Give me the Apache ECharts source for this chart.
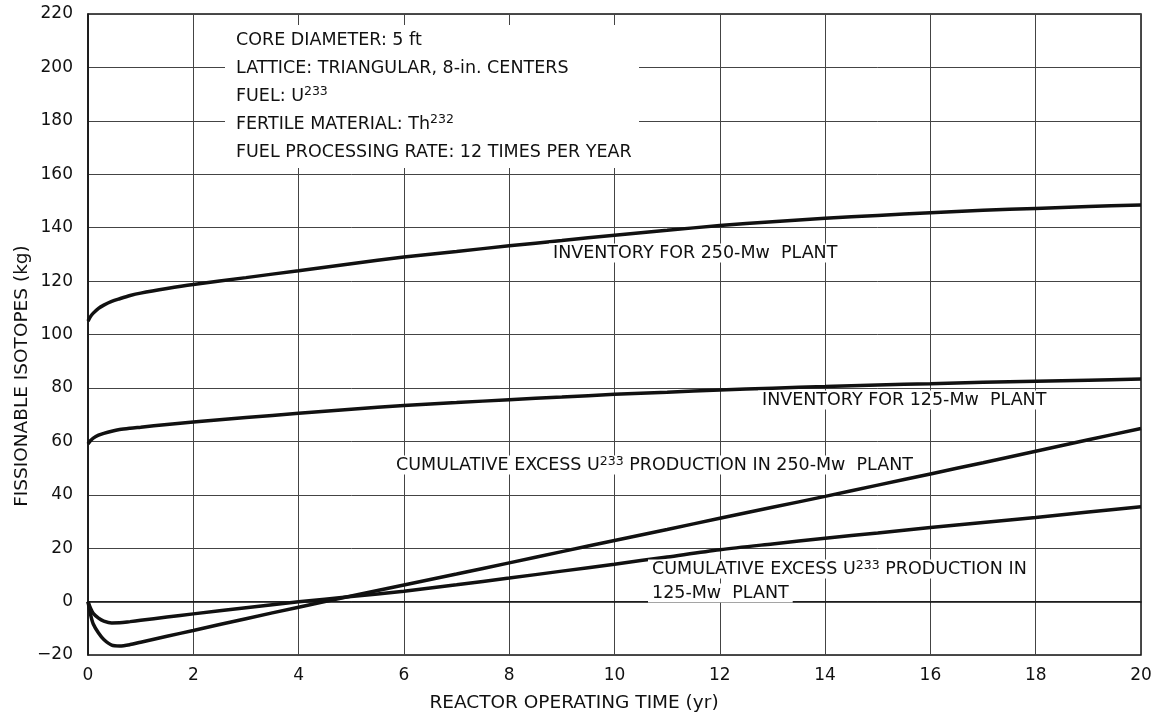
<!DOCTYPE html>
<html>
<head>
<meta charset="utf-8">
<script src="https://cdn.jsdelivr.net/npm/echarts@6/dist/echarts.min.js"></script>
<style>
  html, body { margin: 0; padding: 0; background: #fff; }
  #chart { width: 1164px; height: 716px; }
</style>
</head>
<body>
<div id="chart"></div>
<script>
// reactor operating time (yr), shared by all four curves
const years = [0, 0.05, 0.1, 0.2, 0.3, 0.45, 0.6, 0.8, 1, 1.5, 2, 3, 4, 5, 6, 7, 8, 9, 10, 11, 12, 13, 14, 15, 16, 17, 18, 19, 20];

// fissionable isotopes (kg)
const inventory250 = [105, 106.8, 108, 109.8, 111, 112.4, 113.4, 114.6, 115.5, 117.2, 118.7, 121.3, 123.9, 126.5, 129, 131.1, 133.2, 135.2, 137.2, 139, 140.8, 142.2, 143.5, 144.6, 145.6, 146.5, 147.2, 147.9, 148.5];
const inventory125 = [59, 60.3, 61.2, 62.3, 63, 63.8, 64.4, 64.9, 65.3, 66.3, 67.2, 68.9, 70.5, 72, 73.4, 74.5, 75.6, 76.6, 77.6, 78.4, 79.2, 79.9, 80.5, 81.1, 81.6, 82.1, 82.5, 82.9, 83.3];
const excess250 = [0, -5, -8.4, -11.8, -14.2, -16.3, -16.6, -16.1, -15.2, -13.0, -10.8, -6.4, -2.1, 2.1, 6.2, 10.3, 14.5, 18.7, 22.9, 27, 31.2, 35.3, 39.4, 43.6, 47.8, 52, 56.3, 60.6, 64.8];
const excess125 = [0, -2.6, -4.4, -6.2, -7.3, -8, -7.95, -7.5, -7.0, -5.8, -4.6, -2.3, -0.1, 1.9, 3.9, 6.3, 8.8, 11.4, 14, 16.7, 19.4, 21.6, 23.7, 25.7, 27.7, 29.6, 31.5, 33.5, 35.5];

const notes = [
    "CORE DIAMETER: 5 ft",
    "LATTICE: TRIANGULAR, 8-in. CENTERS",
    "FUEL: U{sup|233}",
    "FERTILE MATERIAL: Th{sup|232}",
    "FUEL PROCESSING RATE: 12 TIMES PER YEAR"
];

const FONT = "DejaVu Sans";
const INK = "#111";
const TEXT = "17.5px " + FONT;

const chart = echarts.init(document.getElementById("chart"));

function curve(name, values) {
    return {
        name: name,
        type: "line",
        smooth: 0.3,
        symbol: "none",
        lineStyle: { color: INK, width: 3.5 },
        data: years.map((x, i) => [x, values[i]])
    };
}

const rich = {
    sup: { fontFamily: FONT, fontSize: 12.5, verticalAlign: "top", fill: INK }
};

function label(text, x, y) {
    return {
        type: "text",
        z: 10,
        x: x,
        y: y,
        style: {
            text: text,
            font: TEXT,
            fill: INK,
            rich: rich,
            lineHeight: 19,
            verticalAlign: "middle",
            backgroundColor: "#fff",
            padding: [0, 4]
        }
    };
}

const graphics = [
    // white block behind the notes, it breaks the grid like on the original
    { type: "rect", z: 5, shape: { x: 225, y: 25, width: 414, height: 143 }, style: { fill: "#fff" } }
];
notes.forEach((t, i) => {
    graphics.push({
        type: "text",
        z: 10,
        x: 236,
        y: 40 + i * 28.2,
        style: { text: t, font: TEXT, fill: INK, rich: rich, lineHeight: 23, verticalAlign: "middle" }
    });
});
graphics.push(label("INVENTORY FOR 250-Mw  PLANT", 549, 253));
graphics.push(label("INVENTORY FOR 125-Mw  PLANT", 758, 400));
graphics.push(label("CUMULATIVE EXCESS U{sup|233} PRODUCTION IN 250-Mw  PLANT", 392, 465));
graphics.push(label("CUMULATIVE EXCESS U{sup|233} PRODUCTION IN", 648, 569));
graphics.push(label("125-Mw  PLANT", 648, 593));
graphics.push({
    type: "text",
    x: 574,
    y: 703,
    style: { text: "REACTOR OPERATING TIME (yr)", font: "18.5px " + FONT, fill: INK, align: "center", verticalAlign: "middle" }
});
graphics.push({
    type: "text",
    x: 22,
    y: 376,
    rotation: Math.PI / 2,
    style: { text: "FISSIONABLE ISOTOPES (kg)", font: "18.5px " + FONT, fill: INK, align: "center", verticalAlign: "middle" }
});

chart.setOption({
    animation: false,
    backgroundColor: "#fff",
    grid: {
        left: 88,
        right: 23,
        top: 14,
        bottom: 61,
        show: true,
        borderColor: INK,
        borderWidth: 1.5
    },
    xAxis: {
        type: "value",
        min: 0,
        max: 20,
        interval: 2,
        axisLine: { lineStyle: { color: INK, width: 1.5 } },
        axisTick: { show: false },
        axisLabel: { color: INK, fontFamily: FONT, fontSize: 17, margin: 12 },
        splitLine: { lineStyle: { color: "#444", width: 1 } }
    },
    yAxis: {
        type: "value",
        min: -20,
        max: 220,
        interval: 20,
        axisLine: { show: true, lineStyle: { color: INK, width: 1.5 } },
        axisTick: { show: false },
        axisLabel: {
            color: INK,
            fontFamily: FONT,
            fontSize: 17,
            margin: 15,
            formatter: v => String(v).replace("-", "\u2212")
        },
        splitLine: { lineStyle: { color: "#444", width: 1 } }
    },
    graphic: graphics,
    series: [
        curve("Inventory 250-Mw", inventory250),
        curve("Inventory 125-Mw", inventory125),
        curve("Excess U233 250-Mw", excess250),
        curve("Excess U233 125-Mw", excess125)
    ]
});
</script>
</body>
</html>
